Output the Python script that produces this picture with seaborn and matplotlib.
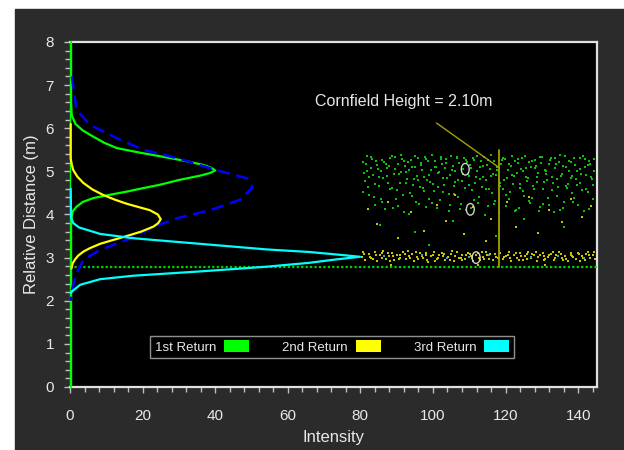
import matplotlib
matplotlib.use("Agg")
import numpy as np
import seaborn as sns
import matplotlib.pyplot as plt
from matplotlib.patches import Patch, Rectangle
from matplotlib.path import Path
from matplotlib.ticker import MultipleLocator

# ------------------------------------------------
# Data (intensity, relative distance in m)

first_curve = [(0.3, 8.0), (0.3, 6.6), (0.5, 6.3), (1.5, 6.1), (3.5, 5.95), (6.3, 5.81),
               (9.5, 5.66), (12.9, 5.54), (19.5, 5.43), (27.5, 5.31), (33.0, 5.22),
               (36.7, 5.15), (39.0, 5.08), (40.0, 5.02), (38.5, 4.96), (35.8, 4.9),
               (30.0, 4.8), (24.8, 4.69), (19.5, 4.6), (15.6, 4.53), (10.5, 4.45),
               (6.4, 4.38), (3.5, 4.29), (1.8, 4.18), (0.8, 4.08), (0.5, 3.97),
               (0.3, 3.8), (0.3, 0.0)]

second_curve = [(0.2, 6.1), (0.2, 5.3), (0.5, 5.15), (0.9, 5.03), (2.0, 4.88), (3.7, 4.73),
                (6.2, 4.58), (9.2, 4.45), (12.5, 4.34), (15.6, 4.25), (19.0, 4.17),
                (22.0, 4.1), (24.2, 4.0), (25.0, 3.89), (24.3, 3.8), (23.0, 3.72),
                (19.5, 3.6), (15.6, 3.5), (11.5, 3.4), (8.3, 3.32), (5.5, 3.22),
                (3.7, 3.14), (2.3, 3.05), (1.4, 2.96), (0.7, 2.86), (0.4, 2.75)]

third_curve = [(0.2, 4.6), (0.3, 3.92), (0.9, 3.8), (2.5, 3.7), (8.3, 3.55), (17.4, 3.45),
               (35.8, 3.32), (54.2, 3.19), (66.0, 3.13), (72.5, 3.08), (79.9, 3.02),
               (72.5, 2.95), (66.0, 2.88), (54.2, 2.79), (35.8, 2.68), (17.4, 2.58),
               (8.3, 2.5), (2.8, 2.37), (0.6, 2.22), (0.2, 2.18)]

sum_curve = [(0.5, 7.2), (1.4, 6.66), (1.8, 6.43), (5.5, 6.08), (12.9, 5.77), (20.2, 5.5),
             (29.4, 5.31), (40.4, 5.03), (48.7, 4.84), (50.3, 4.63), (46.8, 4.34),
             (38.6, 4.1), (29.4, 3.91), (23.9, 3.74), (15.6, 3.41), (8.3, 3.18),
             (3.7, 2.95), (1.8, 2.64), (0.5, 2.25), (0.2, 2.0)]

first_pts = [
    (80.6, 5.21), (81.3, 4.78), (81.9, 5.02), (82.4, 4.46), (82.8, 5.33), (83.5, 4.91), (84.1, 4.23),
    (84.6, 5.14), (85.2, 4.67), (85.9, 5.27), (86.3, 4.85), (86.8, 4.12), (87.4, 5.08), (88.1, 4.59),
    (88.6, 5.36), (89.2, 4.94), (89.7, 4.37), (90.3, 5.18), (90.9, 4.72), (91.4, 5.29), (92.0, 4.05),
    (92.6, 4.99), (93.1, 5.22), (93.7, 4.51), (94.2, 5.11), (94.8, 4.83), (95.3, 4.29), (95.9, 5.31),
    (96.5, 4.64), (97.0, 5.04), (97.6, 4.88), (98.1, 4.18), (98.7, 5.25), (99.2, 4.76), (99.8, 5.39),
    (100.4, 4.55), (100.9, 5.09), (101.5, 4.97), (102.0, 4.33), (102.6, 5.17), (103.1, 4.69),
    (103.7, 5.28), (104.3, 4.08), (104.8, 4.92), (105.4, 5.13), (105.9, 4.47), (106.5, 5.34),
    (107.0, 4.81), (107.6, 4.25), (108.2, 5.06), (108.7, 4.62), (109.3, 5.21), (109.8, 4.89),
    (110.4, 4.14), (110.9, 5.32), (111.5, 4.73), (112.1, 5.01), (112.6, 4.41), (113.2, 5.24),
    (113.7, 4.86), (114.3, 3.98), (114.8, 5.15), (115.4, 4.58), (116.0, 5.37), (116.5, 4.95),
    (117.1, 4.31), (117.6, 5.1), (118.4, 4.66), (118.9, 5.27), (119.5, 4.79), (120.0, 4.2),
    (120.6, 5.03), (121.1, 4.53), (121.7, 5.35), (122.3, 4.9), (122.8, 4.11), (123.4, 5.19),
    (123.9, 4.71), (124.5, 5.3), (125.0, 4.44), (125.6, 5.07), (126.2, 4.84), (126.7, 4.27),
    (127.3, 5.23), (127.8, 4.6), (128.4, 5.12), (128.9, 4.96), (129.5, 4.17), (130.1, 5.33),
    (130.6, 4.75), (131.2, 5.0), (131.7, 4.38), (132.3, 5.26), (132.8, 4.87), (133.4, 4.06),
    (134.0, 5.16), (134.5, 4.63), (135.1, 5.38), (135.6, 4.93), (136.2, 4.3), (136.7, 5.09),
    (137.3, 4.7), (137.9, 5.22), (138.4, 4.49), (139.0, 5.31), (139.5, 4.82), (140.1, 4.22),
    (140.6, 5.05), (141.2, 4.57), (141.8, 5.28), (142.3, 4.91), (142.9, 4.13), (143.4, 5.18),
    (144.0, 4.68), (144.5, 5.02),
    (80.9, 4.97), (81.7, 5.35), (82.2, 4.63), (83.0, 5.08), (83.8, 4.41), (84.4, 5.24), (85.0, 4.86),
    (85.6, 5.01), (86.1, 4.28), (87.0, 5.16), (87.7, 4.74), (88.3, 5.3), (88.9, 4.16), (89.5, 5.06),
    (90.1, 4.57), (90.6, 4.93), (91.2, 5.37), (91.8, 4.45), (92.3, 5.13), (92.9, 4.82), (93.5, 4.02),
    (94.0, 5.27), (94.5, 4.68), (95.1, 5.1), (95.6, 4.9), (96.2, 4.24), (96.8, 5.2), (97.3, 4.61),
    (97.9, 5.33), (98.4, 4.79), (99.0, 4.35), (99.5, 5.04), (100.1, 4.7), (100.7, 5.25),
    (101.2, 4.14), (101.8, 4.98), (102.3, 5.29), (102.9, 4.52), (103.4, 5.07), (104.0, 4.84),
    (104.6, 4.21), (105.1, 5.36), (105.7, 4.65), (106.2, 5.0), (106.8, 4.4), (107.3, 5.2),
    (107.9, 4.77), (108.5, 5.3), (109.0, 4.1), (109.6, 4.95), (110.1, 5.14), (110.7, 4.56),
    (111.2, 5.26), (111.8, 4.88), (112.4, 4.26), (112.9, 5.1), (113.5, 4.64), (114.0, 5.34),
    (114.6, 4.8), (115.1, 4.19), (115.7, 5.06), (116.3, 4.5), (116.8, 5.23), (117.4, 4.92),
    (118.2, 4.03), (118.7, 5.17), (119.2, 4.6), (119.8, 5.29), (120.3, 4.85), (120.9, 4.36),
    (121.4, 5.12), (122.0, 4.7), (122.6, 5.24), (123.1, 4.97), (123.7, 4.15), (124.2, 5.05),
    (124.8, 4.54), (125.3, 5.35), (125.9, 4.78), (126.4, 4.32), (127.0, 5.11), (127.6, 4.66),
    (128.1, 5.27), (128.7, 4.87), (129.2, 4.09), (129.8, 5.2), (130.4, 4.59), (130.9, 5.04),
    (131.5, 4.8), (132.0, 4.23), (132.6, 5.32), (133.1, 4.73), (133.7, 5.08), (134.2, 4.43),
    (134.8, 5.21), (135.3, 4.9), (135.9, 4.16), (136.4, 5.36), (137.0, 4.61), (137.6, 5.0),
    (138.1, 4.85), (138.7, 4.28), (139.2, 5.14), (139.8, 4.69), (140.4, 5.3), (140.9, 4.94),
    (141.5, 4.07), (142.0, 5.1), (142.6, 4.52), (143.1, 5.25), (143.7, 4.83), (144.2, 4.35),
    (80.8, 4.52), (81.6, 5.18), (82.5, 4.88), (83.3, 5.29), (84.0, 4.7), (84.9, 5.05), (85.7, 4.35),
    (86.5, 5.22), (87.3, 4.9), (88.0, 5.12), (88.8, 4.62), (89.6, 5.33), (90.4, 4.2), (91.1, 4.98),
    (91.9, 5.24), (92.7, 4.73), (93.4, 5.03), (94.3, 4.44), (95.0, 5.36), (95.8, 4.81), (96.6, 5.15),
    (97.4, 4.55), (98.2, 5.28), (98.9, 4.92), (99.7, 4.27), (100.5, 5.1), (101.3, 4.64),
    (102.1, 5.34), (102.8, 4.85), (103.6, 5.2), (104.4, 4.48), (105.2, 5.03), (106.0, 4.76),
    (106.7, 5.31), (107.5, 4.12), (108.3, 4.94), (109.1, 5.26), (109.9, 4.68), (110.6, 5.08),
    (111.4, 4.33), (112.2, 5.35), (113.0, 4.82), (113.8, 5.13), (114.5, 4.58), (115.3, 5.27),
    (116.1, 4.89), (116.9, 4.24), (117.7, 5.04), (118.6, 4.72), (119.4, 5.32), (120.2, 4.46),
    (121.0, 5.17), (121.8, 4.91), (122.5, 4.07), (123.3, 5.28), (124.1, 4.62), (124.9, 5.0),
    (125.7, 4.86), (126.5, 5.21), (127.2, 4.39), (128.0, 5.07), (128.8, 4.75), (129.6, 5.34),
    (130.3, 4.25), (131.1, 4.95), (131.9, 5.18), (132.7, 4.56), (133.5, 5.3), (134.3, 4.83),
    (135.0, 4.11), (135.8, 5.12), (136.6, 4.67), (137.4, 5.25), (138.2, 4.9), (138.9, 4.38),
    (139.7, 5.02), (140.5, 4.73), (141.3, 5.35), (142.1, 4.6), (142.8, 5.15), (143.6, 4.88),
    (144.4, 5.28),
    (85.5, 3.75), (95.0, 3.6), (105.5, 3.85), (117.5, 3.5), (125.0, 3.9), (136.0, 3.7), (99.0, 3.3),
]

second_pts = [
    (80.5, 3.02), (81.4, 2.95), (82.3, 3.08), (83.0, 2.99), (83.9, 3.12), (84.7, 2.92), (85.5, 3.05),
    (86.2, 3.15), (87.1, 2.97), (87.9, 3.03), (88.7, 3.1), (89.4, 2.94), (90.2, 3.06), (91.0, 3.0),
    (91.8, 3.13), (92.5, 2.96), (93.3, 3.04), (94.1, 3.09), (94.9, 2.93), (95.6, 3.01), (96.4, 3.11),
    (97.2, 2.98), (98.0, 3.07), (98.7, 2.91), (99.5, 3.03), (100.3, 3.14), (101.1, 2.97),
    (101.8, 3.05), (102.6, 3.1), (103.4, 2.95), (104.2, 3.02), (104.9, 3.08), (105.7, 2.93),
    (106.5, 3.12), (107.3, 3.0), (108.0, 3.06), (108.8, 2.96), (109.6, 3.11), (110.4, 3.03),
    (111.1, 2.92), (111.9, 3.07), (112.7, 3.0), (113.5, 3.13), (114.2, 2.97), (115.0, 3.05),
    (115.8, 3.09), (116.6, 2.94), (117.3, 3.02), (118.5, 3.1), (119.3, 2.96), (120.1, 3.04),
    (120.9, 3.12), (121.6, 2.93), (122.4, 3.06), (123.2, 3.0), (124.0, 3.1), (124.7, 2.95),
    (125.5, 3.03), (126.3, 3.14), (127.1, 2.98), (127.8, 3.07), (128.6, 2.92), (129.4, 3.05),
    (130.2, 3.11), (130.9, 2.97), (131.7, 3.02), (132.5, 3.09), (133.3, 2.94), (134.0, 3.06),
    (134.8, 3.13), (135.6, 2.99), (136.4, 3.04), (137.1, 2.93), (137.9, 3.1), (138.7, 3.01),
    (139.5, 2.96), (140.2, 3.08), (141.0, 3.03), (141.8, 2.95), (142.6, 3.12), (143.3, 3.0),
    (144.1, 3.06), (144.7, 2.97),
    (81.0, 3.09), (82.7, 3.01), (84.3, 3.06), (86.0, 2.98), (87.6, 3.11), (89.1, 3.04), (90.7, 2.97),
    (92.2, 3.08), (93.8, 3.0), (95.3, 3.12), (96.9, 3.03), (98.4, 2.95), (100.0, 3.07), (101.5, 3.0),
    (103.0, 3.09), (104.6, 2.94), (106.1, 3.04), (107.7, 2.99), (109.2, 3.07), (110.8, 2.98),
    (112.3, 3.1), (113.9, 3.02), (115.4, 2.96), (117.0, 3.08), (119.7, 3.02), (121.2, 2.99),
    (122.8, 3.1), (124.3, 3.03), (125.9, 2.97), (127.4, 3.09), (129.0, 3.01), (130.5, 2.95),
    (132.1, 3.05), (133.6, 3.0), (135.2, 3.08), (136.7, 2.96), (138.3, 3.04), (139.9, 3.11),
    (141.4, 2.99), (143.0, 3.05),
    (80.7, 3.13), (83.6, 2.96), (85.9, 3.1), (88.2, 2.93), (90.9, 3.07), (93.0, 3.15), (95.8, 2.97),
    (98.2, 3.1), (100.7, 2.93), (102.9, 3.03), (105.3, 3.15), (107.9, 2.94), (110.1, 3.08),
    (112.9, 2.95), (114.7, 3.14), (117.8, 2.99), (120.6, 3.07), (123.7, 2.94), (126.0, 3.09),
    (128.3, 3.14), (130.7, 3.03), (133.0, 3.12), (135.9, 2.94), (138.0, 3.07), (140.6, 2.92),
    (142.2, 3.09), (144.4, 3.12),
    (82.0, 4.12), (84.5, 3.78), (87.5, 4.3), (90.5, 3.45), (94.0, 4.05), (97.5, 3.62), (101.0, 4.22),
    (103.5, 3.85), (106.0, 4.45), (108.5, 3.55), (111.0, 4.18), (114.5, 3.38), (116.0, 3.9),
    (120.5, 4.28), (123.0, 3.7), (126.5, 4.4), (129.0, 3.58), (132.0, 4.1), (135.5, 3.82),
    (138.0, 4.35), (141.0, 3.95), (143.5, 4.2), (88.5, 2.82), (112.5, 2.84), (131.0, 2.83),
]

third_pts = [(86.5, 3.03), (97.0, 3.05), (104.0, 3.0), (110.0, 3.02), (115.5, 3.06),
             (127.0, 3.01), (134.5, 3.04), (141.5, 3.0)]

marker_pts = [(108.9, 5.05), (110.3, 4.12), (111.9, 3.0)]

ground_level = 2.78
canopy_x = 118.2
canopy_top = 5.5
label_text = "Cornfield Height = 2.10m"
legend_labels = ["1st Return", "2nd Return", "3rd Return"]

# ------------------------------------------------

GREEN, YELLOW, CYAN, BLUE = "#00ff00", "#ffff00", "#00ffff", "#0000ff"
TEXT = "#e8e8e8"

sns.set_style("dark")
plt.rcParams["font.family"] = ["Liberation Sans", "DejaVu Sans"]

fig = plt.figure(figsize=(6.24, 4.5), dpi=100, facecolor="white")
fig.patches.append(Rectangle((15 / 624, 0), 1 - 15 / 624, 1 - 9 / 450,
                             transform=fig.transFigure, color="#2b2b2b", zorder=-5))
ax = fig.add_axes([70 / 624, 1 - 387 / 450, 527 / 624, 345 / 450])
ax.set_facecolor("black")


def xy(pts):
    return [p[0] for p in pts], [p[1] for p in pts]


# scatter returns
for pts, col in [(first_pts, "#10c010"), (second_pts, "#c8c400"), (third_pts, "#20b0c0")]:
    px, py = xy(pts)
    sns.scatterplot(x=px, y=py, ax=ax, color=col, marker="s", s=4,
                    linewidth=0, zorder=2)

# ground level
ax.axhline(ground_level, color="#00d000", lw=1.6, ls=(0, (1, 1)), zorder=3)

# canopy height marker
ax.plot([canopy_x, canopy_x], [ground_level, canopy_top], color="#a8a000", lw=1.3, zorder=4)
ax.plot([101.0, canopy_x], [6.12, 5.09], color="#a8a000", lw=1.0, zorder=4)
ax.text(67.5, 6.62, label_text, color=TEXT, fontsize=11.5, va="center", ha="left")

# hollow ring markers
ring = Path(Path.unit_circle().vertices * [0.68, 1.0], Path.unit_circle().codes)
mx, my = xy(marker_pts)
ax.scatter(mx, my, marker=ring, s=70, facecolors="none", edgecolors="#d0d0d0",
           linewidths=1.0, zorder=6)

# waveform curves
cx, cy = xy(first_curve)
sns.lineplot(x=cx, y=cy, ax=ax, sort=False, estimator=None, color=GREEN, lw=1.6,
             clip_on=False, zorder=5)
cx, cy = xy(sum_curve)
sns.lineplot(x=cx, y=cy, ax=ax, sort=False, estimator=None, color=BLUE, lw=1.8,
             dashes=False, ls=(0, (5, 2.6)), clip_on=False, zorder=5)
cx, cy = xy(second_curve)
sns.lineplot(x=cx, y=cy, ax=ax, sort=False, estimator=None, color=YELLOW, lw=1.6,
             clip_on=False, zorder=5)
cx, cy = xy(third_curve)
sns.lineplot(x=cx, y=cy, ax=ax, sort=False, estimator=None, color=CYAN, lw=1.6,
             clip_on=False, zorder=5)

ax.set_xlim(0, 145.2)
ax.set_ylim(0, 8)
ax.grid(False)

ax.xaxis.set_major_locator(MultipleLocator(20))
ax.xaxis.set_minor_locator(MultipleLocator(4))
ax.yaxis.set_major_locator(MultipleLocator(1))
ax.yaxis.set_minor_locator(MultipleLocator(0.2))
ax.tick_params(which="both", direction="out", color="#c0c0c0", width=1.0,
               labelcolor=TEXT, labelsize=11, bottom=True, left=True)
ax.tick_params(which="major", length=4.5)
ax.tick_params(which="minor", length=3.5)
ax.tick_params(axis="x", which="major", pad=11)
ax.tick_params(axis="y", which="major", pad=7)

for side in ["top", "right", "bottom"]:
    ax.spines[side].set_color("#e0e0e0")
    ax.spines[side].set_linewidth(1.6)
ax.spines["left"].set_color(GREEN)
ax.spines["left"].set_linewidth(1.0)

ax.set_xlabel("Intensity", color=TEXT, fontsize=12)
ax.set_ylabel("Relative Distance (m)", color=TEXT, fontsize=12)
ax.xaxis.set_label_coords(0.5, -0.125)
ax.yaxis.set_label_coords(-0.058, 0.5)

handles = [Patch(facecolor=c, edgecolor="none") for c in [GREEN, YELLOW, CYAN]]
leg = ax.legend(handles, legend_labels, ncol=3, markerfirst=False,
                loc="center", bbox_to_anchor=(0.497, 0.116),
                fontsize=9.5, labelcolor=TEXT, frameon=True, fancybox=False,
                facecolor="black", edgecolor="#909090", framealpha=1,
                handlelength=1.9, handleheight=0.95, handletextpad=0.6,
                columnspacing=2.5, borderpad=0.35, borderaxespad=0)
leg.get_frame().set_linewidth(1.0)

fig.savefig("out.png", dpi=100, facecolor=fig.get_facecolor())
